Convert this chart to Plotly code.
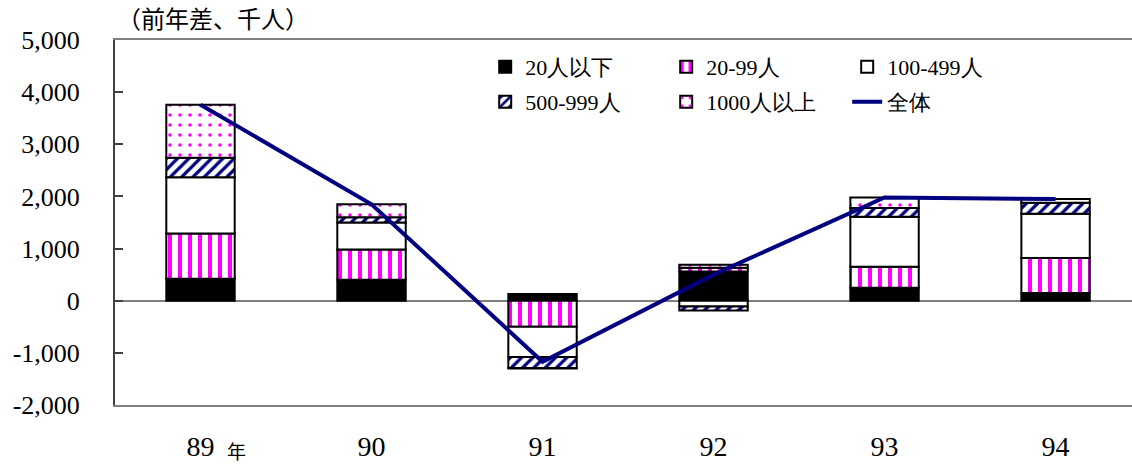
import plotly.graph_objects as go

# Year-on-year change in employees by establishment size (thousand persons)
years = ["89", "90", "91", "92", "93", "94"]
size_1_19 = [420, 400, 130, 560, 250, 150]          # 20人以下
size_20_99 = [870, 580, -500, 70, 400, 670]         # 20-99人
size_100_499 = [1080, 520, -580, -110, 960, 850]    # 100-499人
size_500_999 = [370, 100, -210, -80, 170, 210]      # 500-999人
size_1000_plus = [1020, 250, -10, 60, 200, 70]      # 1000人以上
total = [3760, 1850, -1170, 500, 1980, 1950]        # 全体

y_ticks = [-2000, -1000, 0, 1000, 2000, 3000, 4000, 5000]
y_tick_text = ["-2,000", "-1,000", "0", "1,000", "2,000", "3,000", "4,000", "5,000"]

NAVY = "#000080"
MAGENTA = "#FF00FF"
SERIF = "Liberation Serif"

fig = go.Figure()

bar_specs = [
    ("20人以下", size_1_19, dict(color="black"), "legend"),
    ("20-99人", size_20_99,
     dict(color="white", pattern=dict(shape="|", fgcolor=MAGENTA, bgcolor="white",
                                      fgopacity=1, size=10, solidity=0.4)), "legend"),
    ("100-499人", size_100_499, dict(color="white"), "legend"),
    ("500-999人", size_500_999,
     dict(color="white", pattern=dict(shape="/", fgcolor=NAVY, bgcolor="white",
                                      fgopacity=1, size=8, solidity=0.4)), "legend2"),
    ("1000人以上", size_1000_plus,
     dict(color="white", pattern=dict(shape=".", fgcolor=MAGENTA, bgcolor="white",
                                      fgopacity=1, size=10, solidity=0.1)), "legend2"),
]
for name, vals, marker, leg in bar_specs:
    marker = dict(marker)
    marker["line"] = dict(color="black", width=2)
    fig.add_trace(go.Bar(x=years, y=vals, name=name, marker=marker, legend=leg))

fig.add_trace(go.Scatter(x=years, y=total, name="全体", mode="lines",
                         line=dict(color=NAVY, width=4), legend="legend2"))

legend_common = dict(
    orientation="h", xanchor="left", yanchor="middle",
    entrywidth=136, entrywidthmode="pixels",
    font=dict(family=SERIF, size=22, color="black"),
    bgcolor="rgba(0,0,0,0)", borderwidth=0, itemclick=False,
    traceorder="normal",
)

fig.update_layout(
    width=1132, height=465,
    margin=dict(l=115, r=0, t=40, b=60),
    paper_bgcolor="white", plot_bgcolor="white",
    font=dict(family=SERIF, color="black"),
    barmode="relative", bargap=0.6,
    showlegend=True,
    legend=dict(x=0.364, y=0.926, **legend_common),
    legend2=dict(x=0.364, y=0.83, **legend_common),
    xaxis=dict(
        type="category", range=[-0.5, 5.447], automargin=False,
        showline=True, linecolor="#808080", linewidth=2, mirror=True,
        ticks="", showgrid=False,
        tickfont=dict(family=SERIF, size=28, color="black"),
        ticklabelstandoff=15,
    ),
    yaxis=dict(
        range=[-2000, 5000], tickvals=y_ticks, ticktext=y_tick_text, automargin=False,
        showline=True, linecolor="#404040", linewidth=2,
        ticks="inside", ticklen=8, tickwidth=1.5, tickcolor="#404040",
        showgrid=False, zeroline=True, zerolinecolor="#808080", zerolinewidth=2,
        tickfont=dict(family=SERIF, size=26, color="black"),
        ticklabelstandoff=28,
    ),
    annotations=[
        dict(text="（前年差、千人）", xref="paper", yref="paper", x=0, y=1,
             xanchor="left", yanchor="middle", yshift=23, showarrow=False,
             font=dict(family="Noto Sans CJK JP", size=24, color="black")),
        dict(text="年", xref="x", yref="paper", x=0, y=0, xshift=36, yshift=-45,
             xanchor="center", yanchor="middle", showarrow=False,
             font=dict(family="Noto Sans CJK JP", size=19, color="black")),
    ],
)

fig.write_html("out.html")
